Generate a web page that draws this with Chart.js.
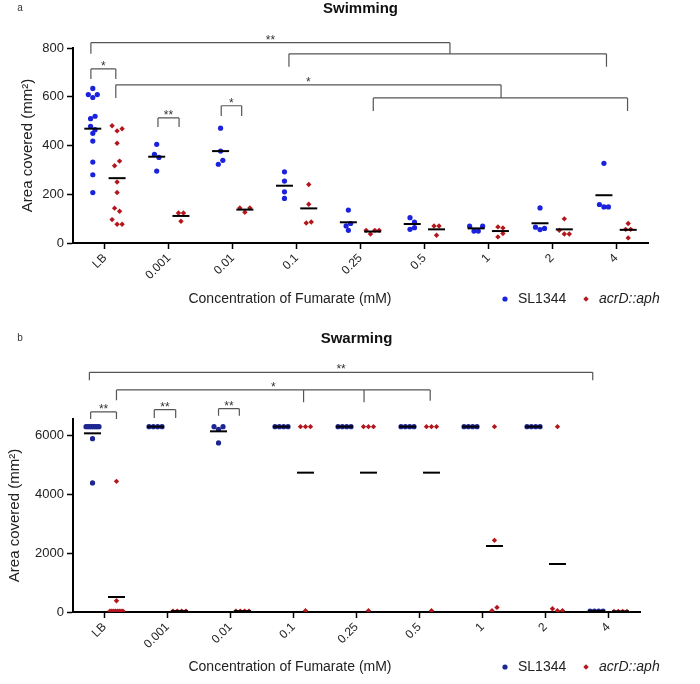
<!DOCTYPE html>
<html>
<head>
<meta charset="utf-8">
<script src="https://cdn.jsdelivr.net/npm/chart.js@4.4.0/dist/chart.umd.min.js"></script>
<style>
  body { margin: 0; background: #fff; }
  #wrap { position: relative; width: 700px; height: 684px; }
  .panel { position: absolute; left: 0; width: 700px; }
</style>
</head>
<body>
<div id="wrap">
  <div class="panel" style="top:0;height:330px"><canvas id="swim"></canvas></div>
  <div class="panel" style="top:330px;height:354px"><canvas id="swarm"></canvas></div>
</div>
<script>
// Shared categories / series names
const CATEGORIES = ['LB', '0.001', '0.01', '0.1', '0.25', '0.5', '1', '2', '4'];
const SERIES_NAMES = ['SL1344', 'acrD::aph'];

// ---- a: Swimming (area, mm2) ----
const swimYTicks = [0, 200, 400, 600, 800];
const swimSL1344 = [
  [634, 609, 597, 609, 510, 520, 450, 479, 465, 418, 332, 280, 207],
  [405, 364, 351, 295],
  [471, 377, 323, 339],
  [292, 254, 210, 183],
  [135, 70, 80, 52],
  [104, 86, 56, 63],
  [69, 49, 49, 69],
  [144, 65, 55, 60],
  [327, 158, 148, 148]
];
const swimAcrD = [
  [481, 460, 469, 409, 317, 336, 250, 207, 143, 130, 96, 77, 77],
  [123, 123, 89],
  [144, 126, 144],
  [240, 159, 82, 86],
  [52, 37, 52, 52],
  [70, 70, 32],
  [66, 62, 25, 39],
  [99, 52, 37, 37],
  [80, 56, 56, 21]
];
const swimMeanSL1344 = [469, 354, 377, 235, 85, 78, 60, 81, 196];
const swimMeanAcrD = [266, 111, 137, 142, 47, 56, 49, 56, 54];
const swimBrackets = [
  { from: -0.22, to: 5.4, y: 822, legs: [[-0.22, 776], [5.4, 776]], text: '**' },
  { from: 2.88, to: 7.85, y: 776, legs: [[2.88, 723], [7.85, 723]] },
  { from: -0.22, to: 0.17, y: 714, legs: [[-0.22, 673], [0.17, 673]], text: '*' },
  { from: 0.17, to: 6.2, y: 649, legs: [[0.17, 595], [6.2, 595]], text: '*' },
  { from: 4.2, to: 8.18, y: 595, legs: [[4.2, 542], [8.18, 542]] },
  { from: 0.83, to: 1.16, y: 513, legs: [[0.83, 476], [1.16, 476]], text: '**' },
  { from: 1.82, to: 2.14, y: 563, legs: [[1.82, 521], [2.14, 521]], text: '*' }
];

// ---- b: Swarming (area, mm2) ----
const swarmYTicks = [0, 2000, 4000, 6000];
const swarmSL1344 = [
  [6300, 6300, 6300, 6300, 6300, 6300, 6300, 6300, 5892, 4386],
  [6300, 6300, 6300, 6300],
  [6300, 6210, 6300, 5746],
  [6300, 6300, 6300, 6300],
  [6300, 6300, 6300, 6300],
  [6300, 6300, 6300, 6300],
  [6300, 6300, 6300, 6300],
  [6300, 6300, 6300, 6300],
  [30, 30, 30, 30]
];
const swarmAcrD = [
  [4441, 384, 30, 30, 30, 30, 30, 30, 30, 30],
  [30, 30, 30, 30],
  [30, 30, 30, 30],
  [6300, 6300, 6300, 44],
  [6300, 6300, 6300, 44],
  [6300, 6300, 6300, 44],
  [6300, 2435, 44, 157],
  [6300, 112, 44, 44],
  [20, 20, 20, 20]
];
const swarmMeanSL1344 = [6073, 6300, 6141, 6300, 6300, 6300, 6300, 6300, 30];
const swarmMeanAcrD = [510, 30, 30, 4736, 4736, 4736, 2244, 1632, 20];
const swarmBrackets = [
  { from: -0.24, to: 7.75, y: 8146, legs: [[-0.24, 7874], [7.75, 7874]], text: '**' },
  { from: 0.19, to: 5.17, y: 7548, legs: [[0.19, 7194], [3.16, 7126], [4.12, 7126], [5.17, 7184]], text: '*' },
  { from: -0.22, to: 0.19, y: 6800, legs: [[-0.22, 6562], [0.19, 6562]], text: '**' },
  { from: 0.79, to: 1.13, y: 6878, legs: [[0.79, 6596], [1.13, 6596]], text: '**' },
  { from: 1.81, to: 2.14, y: 6912, legs: [[1.81, 6674], [2.14, 6674]], text: '**' }
];

const FONT = "'Liberation Sans', Arial, sans-serif";
Chart.defaults.font.family = FONT;
Chart.defaults.color = '#222';

const GROUP_OFFSET = 0.19;   // blue left of tick, red right of tick

/**
 * Spread equal-ish values side by side (like a column scatter)
 */
function spreadGroup(values, center, pxPerY, pxPerX, gap) {
  const order = values.map((v, i) => i).sort((a, b) => values[b] - values[a]);
  const bins = [];
  order.forEach(i => {
    const bin = bins[bins.length - 1];
    if (bin && (values[bin[0]] - values[i]) * pxPerY < 5.5) bin.push(i);
    else bins.push([i]);
  });
  const pts = [];
  bins.forEach(bin => {
    bin.sort((a, b) => a - b);
    const step = bin.length > 1 ? Math.min(gap, 13 / (bin.length - 1)) : 0;
    bin.forEach((i, k) => {
      const off = (k - (bin.length - 1) / 2) * step;
      pts.push({ x: center + off / pxPerX, y: values[i] });
    });
  });
  return pts;
}

// Brackets, titles, x title and legend
const panelDecor = {
  id: 'panelDecor',
  afterDraw(chart, args, opts) {
    const { ctx, chartArea } = chart;
    const xs = chart.scales.x, ys = chart.scales.y;
    ctx.save();

    ctx.strokeStyle = '#555';
    ctx.lineWidth = 1.2;
    ctx.fillStyle = '#333';
    ctx.font = '12px ' + FONT;
    ctx.textAlign = 'center';
    ctx.textBaseline = 'alphabetic';
    opts.brackets.forEach(b => {
      const y = ys.getPixelForValue(b.y);
      const x1 = xs.getPixelForValue(b.from), x2 = xs.getPixelForValue(b.to);
      ctx.beginPath();
      ctx.moveTo(x1, y);
      ctx.lineTo(x2, y);
      b.legs.forEach(([lx, ly]) => {
        const px = xs.getPixelForValue(lx);
        ctx.moveTo(px, y);
        ctx.lineTo(px, ys.getPixelForValue(ly));
      });
      ctx.stroke();
      if (b.text) ctx.fillText(b.text, (x1 + x2) / 2, y + 1);
    });

    ctx.textBaseline = 'middle';
    ctx.fillStyle = '#111';
    ctx.font = 'bold 15px ' + FONT;
    ctx.fillText(opts.title, (chartArea.left + chartArea.right) / 2, 9);

    ctx.fillStyle = '#333';
    ctx.font = '10px ' + FONT;
    ctx.fillText(opts.letter, 20, 8);

    ctx.fillStyle = '#222';
    ctx.font = '14px ' + FONT;
    ctx.fillText('Concentration of Fumarate (mM)', 290, opts.footY);

    // legend
    ctx.textAlign = 'left';
    chart.data.datasets.filter(d => d.legendX).forEach(d => {
      ctx.fillStyle = d.backgroundColor;
      Chart.helpers.drawPoint(ctx, { pointStyle: d.pointStyle, radius: d.pointRadius, borderWidth: 0 }, d.legendX, opts.footY);
      ctx.fillStyle = '#222';
      ctx.font = (d.italic ? 'italic ' : '') + '14px ' + FONT;
      ctx.fillText(d.label, d.legendX + 13, opts.footY);
    });
    ctx.restore();
  }
};

function createPanel(canvas, cfg) {
  const plotW = 700 - cfg.pad.right - cfg.yWidth;
  const plotH = cfg.height - cfg.pad.top - cfg.pad.bottom - cfg.xHeight;
  const pxPerX = plotW / CATEGORIES.length;
  const pxPerY = plotH / cfg.yMax;

  const bluePts = [], redPts = [];
  CATEGORIES.forEach((c, i) => {
    bluePts.push(...spreadGroup(cfg.sl[i], i - GROUP_OFFSET, pxPerY, pxPerX, 4.5));
    redPts.push(...spreadGroup(cfg.acrd[i], i + GROUP_OFFSET, pxPerY, pxPerX, 5));
  });

  const meanLine = (vals, off) => vals.map((v, i) => ({ x: i + off, y: v }));

  return new Chart(canvas, {
    type: 'scatter',
    data: {
      datasets: [
        {
          label: 'mean SL1344',
          data: meanLine(cfg.slMean, -GROUP_OFFSET),
          pointStyle: 'line', pointRadius: 8.5, borderColor: '#000', borderWidth: 2,
          order: 0
        },
        {
          label: 'mean acrD',
          data: meanLine(cfg.acrdMean, GROUP_OFFSET),
          pointStyle: 'line', pointRadius: 8.5, borderColor: '#000', borderWidth: 2,
          order: 0
        },
        {
          label: SERIES_NAMES[0],
          data: bluePts,
          pointStyle: 'circle', pointRadius: 2.6, borderWidth: 0,
          backgroundColor: cfg.blue, legendX: 505,
          order: 1
        },
        {
          label: SERIES_NAMES[1],
          data: redPts,
          pointStyle: 'rectRot', pointRadius: 2.7, borderWidth: 0,
          backgroundColor: '#b3161c', legendX: 586, italic: true,
          order: 1
        }
      ]
    },
    options: {
      responsive: true,
      maintainAspectRatio: false,
      animation: false,
      layout: { padding: cfg.pad },
      plugins: {
        legend: { display: false },
        tooltip: { enabled: false },
        panelDecor: {
          brackets: cfg.brackets, title: cfg.title, letter: cfg.letter, footY: cfg.footY
        }
      },
      scales: {
        x: {
          type: 'linear',
          min: -0.5,
          max: CATEGORIES.length - 0.5,
          afterBuildTicks: axis => { axis.ticks = CATEGORIES.map((c, i) => ({ value: i })); },
          afterFit: scale => { scale.height = cfg.xHeight; },
          ticks: {
            callback: v => CATEGORIES[v],
            autoSkip: false,
            minRotation: 45,
            maxRotation: 45,
            padding: 2,
            color: '#222',
            font: { size: 12 }
          },
          grid: { drawOnChartArea: false, drawTicks: true, tickLength: 6, tickWidth: 1.5, color: '#000' },
          border: { display: true, color: '#000', width: 2 }
        },
        y: {
          min: 0,
          max: cfg.yMax,
          afterBuildTicks: axis => { axis.ticks = cfg.yTicks.map(v => ({ value: v })); },
          afterFit: scale => { scale.width = cfg.yWidth; },
          ticks: { padding: 3, color: '#222', font: { size: 13 }, callback: v => String(v) },
          grid: { drawOnChartArea: false, drawTicks: true, tickLength: 6, tickWidth: 1.5, color: '#000' },
          border: { display: true, color: '#000', width: 2 },
          title: {
            display: true,
            text: 'Area covered (mm²)',
            color: '#222',
            font: { size: 15 },
            padding: { top: cfg.yTitlePad, bottom: 0 }
          }
        }
      }
    },
    plugins: [panelDecor]
  });
}

createPanel(document.getElementById('swim'), {
  height: 330, yWidth: 73, xHeight: 50,
  pad: { top: 48, right: 52, bottom: 37, left: 0 },
  yMax: 800, yTicks: swimYTicks, yTitlePad: 19,
  sl: swimSL1344, acrd: swimAcrD, slMean: swimMeanSL1344, acrdMean: swimMeanAcrD,
  brackets: swimBrackets, title: 'Swimming', letter: 'a', footY: 299,
  blue: '#1a22dc'
});

createPanel(document.getElementById('swarm'), {
  height: 354, yWidth: 73, xHeight: 50,
  pad: { top: 89, right: 60, bottom: 22, left: 0 },
  yMax: 6560, yTicks: swarmYTicks, yTitlePad: 6,
  sl: swarmSL1344, acrd: swarmAcrD, slMean: swarmMeanSL1344, acrdMean: swarmMeanAcrD,
  brackets: swarmBrackets, title: 'Swarming', letter: 'b', footY: 337,
  blue: '#1d2690'
});
</script>
</body>
</html>
